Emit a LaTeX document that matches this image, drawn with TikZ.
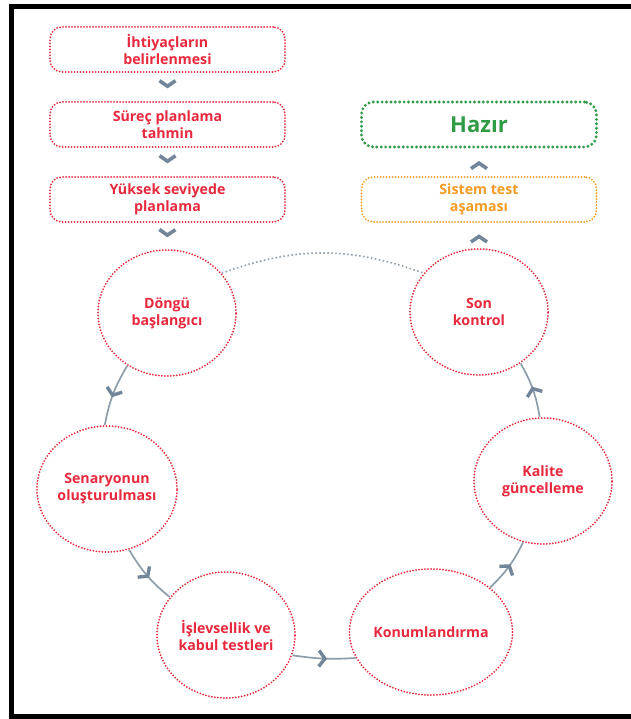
\documentclass[tikz,border=0pt]{standalone}
\usepackage{fontspec}
\setmainfont{Open Sans}
\usetikzlibrary{shapes.geometric,arrows.meta,decorations.markings}
\definecolor{cred}{HTML}{E8283D}
\definecolor{cgreen}{HTML}{2F9B45}
\definecolor{corange}{HTML}{F59B23}
\definecolor{cgray}{HTML}{8E9DAB}
\definecolor{cslate}{HTML}{72869A}
\tikzset{
  dotline/.style={line width=2pt, dash pattern=on 0pt off 3pt, line cap=round},
  boxtxt/.style={align=center, font=\bfseries\fontsize{14.2}{17}\selectfont},
  stagebox/.style={draw=cred, text=cred, dotline, boxtxt, rounded corners=12pt,
    minimum width=235pt, minimum height=45pt, inner sep=0pt},
  readybox/.style={draw=cgreen, text=cgreen, line width=3.2pt, dash pattern=on 0pt off 4.4pt,
    line cap=round, rounded corners=12pt, minimum width=235pt, minimum height=45pt,
    inner sep=0pt, font=\bfseries\fontsize{22}{26}\selectfont},
  testbox/.style={stagebox, draw=corange, text=corange},
  cyc/.style={ellipse, draw=cred, text=cred, dotline, boxtxt,
    minimum width=138pt, minimum height=126pt, inner sep=0pt},
  conn/.style={draw=cgray, line width=1.7pt,
    decoration={markings, mark=at position 0.55 with {\arrow[color=cslate]{Straight Barb[length=6pt,width=16pt,line width=3.4pt]}}},
    postaction={decorate}},
  chev/.style={decoration={markings, mark=at position 0.55 with {\arrow[color=cslate]{Straight Barb[length=5.5pt,width=16pt,line width=3.6pt]}}},
    postaction={decorate}},
  loopback/.style={draw=cgray, line width=1.6pt, dash pattern=on 1.5pt off 2.5pt}
}
\begin{document}
\begin{tikzpicture}[x=1pt,y=-1pt]
\useasboundingbox (0,0) rectangle (630,719);
\fill[white] (0,0) rectangle (630,719);
\draw[line width=5pt] (640,6.5) -- (11.5,6.5) -- (11.5,716.5) -- (640,716.5);

\node[stagebox] (b1) at (167.5,49.5) {İhtiyaçların\\belirlenmesi};
\node[stagebox] (b2) at (167.5,124.5) {Süreç planlama\\tahmin};
\node[stagebox] (b3) at (167.5,199.5) {Yüksek seviyede\\planlama};
\node[readybox] (hazir) at (479,124.5) {Hazır};
\node[testbox] (sistem) at (479,199.5) {Sistem test\\aşaması};

\node[cyc] (dongu) at (167,313) {Döngü\\başlangıcı};
\node[cyc] (sen) at (107,489) {Senaryonun\\oluşturulması};
\node[cyc] (isl) at (226,635) {İşlevsellik ve\\kabul testleri};
\node[cyc] (kon) at (431,632) {Konumlandırma};
\node[cyc] (kal) at (543,481) {Kalite\\güncelleme};
\node[cyc] (son) at (479,312) {Son\\kontrol};

\path[chev] (b1.south) -- (b2.north);
\path[chev] (b2.south) -- (b3.north);
\path[chev] (b3.south) -- (dongu.north);
\path[chev] (son.north) -- (sistem.south);
\path[chev] (sistem.north) -- (hazir.south);

\draw[conn] (dongu.233) to[bend right=10] (sen.92);
\draw[conn] (sen.290) to[bend right=10] (isl.146);
\draw[conn] (isl.343) to[bend right=6] (kon.199);
\draw[conn] (kon.37) to[bend right=10] (kal.252);
\draw[conn] (kal.93) to[bend right=10] (son.309);
\draw[loopback] (dongu.36) to[bend left=20] (son.145);
\end{tikzpicture}
\end{document}
